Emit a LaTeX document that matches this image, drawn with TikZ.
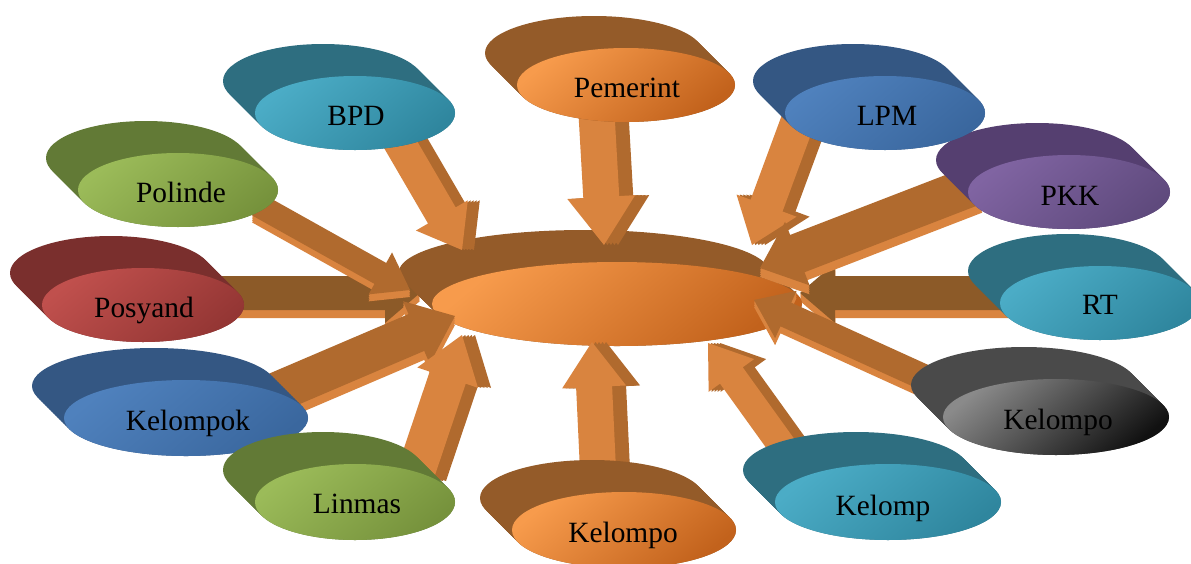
\documentclass[tikz,border=0pt]{standalone}
\usepackage{fontspec}
\setmainfont{Liberation Serif}
\usetikzlibrary{calc}
\definecolor{orL}{HTML}{F79B4C}\definecolor{orD}{HTML}{C2621C}\definecolor{orB}{HTML}{945B29}
\definecolor{teL}{HTML}{4BACC6}\definecolor{teD}{HTML}{2F869E}\definecolor{teB}{HTML}{2E6E80}
\definecolor{blL}{HTML}{4F81BD}\definecolor{blD}{HTML}{3A679E}\definecolor{blB}{HTML}{345783}
\definecolor{grL}{HTML}{9BBB59}\definecolor{grD}{HTML}{76923C}\definecolor{grB}{HTML}{627A36}
\definecolor{puL}{HTML}{8064A2}\definecolor{puD}{HTML}{5F4A7D}\definecolor{puB}{HTML}{553F70}
\definecolor{reL}{HTML}{C0504D}\definecolor{reD}{HTML}{943634}\definecolor{reB}{HTML}{7A2F2D}
\definecolor{gyL}{HTML}{8A8A8A}\definecolor{gyD}{HTML}{111111}\definecolor{gyB}{HTML}{4A4A4A}
\definecolor{arL}{HTML}{D9843F}\definecolor{arD}{HTML}{B06A2E}\definecolor{arH}{HTML}{8C5A28}
\tikzset{
  lab/.style={font=\fontsize{29.4}{34}\selectfont, text=black, inner sep=0pt, anchor=base},
  arlight/.style={fill=arL},
  ardark/.style={fill=arD},
  arbrown/.style={fill=arH}
}
% satellite: #1 name, #2 cx, #3 cy, #4 rx, #5 ry, #6 colour prefix, #7 text x, #8 baseline y, #9 text
\newcommand{\sat}[9]{%
  \foreach \t in {0,0.0625,...,1.01}{%
    \fill[#6B] ({#2-32*(1-\t)},{#3-32*(1-\t)}) ellipse [x radius=#4pt, y radius=#5pt];}
  \shade[top color=#6L, bottom color=#6D, shading angle=40] (#2,#3) ellipse [x radius=#4pt, y radius=#5pt];
  \node[lab] (#1) at (#7,#8) {#9};
}
% block arrow: #1 start, #2 end, #3 half shaft, #4 half head, #5 head length, #6 style, #7 dx, #8 dy
\newcommand{\barrow}[8]{%
  \coordinate (S) at ($(#1)+(#7,#8)$);
  \coordinate (E) at ($(#2)+(#7,#8)$);
  \coordinate (H) at ($(E)!#5!(S)$);
  \fill[#6] ($(S)!#3!90:(E)$) -- ($(H)!#3!90:(E)$) -- ($(H)!#4!90:(E)$) -- (E)
     -- ($(H)!#4!-90:(E)$) -- ($(H)!#3!-90:(E)$) -- ($(S)!#3!-90:(E)$) -- cycle;
}
% vertical-ish arrow with darker side to the right
\newcommand{\varrow}[6]{%
  \foreach \k in {0.25,0.5,0.75,1}{\barrow{#1}{#2}{#3}{#4}{#5}{ardark}{#6*\k}{0}}
  \barrow{#1}{#2}{#3}{#4}{#5}{arlight}{0}{0}
}
% horizontal-ish arrow with lighter strip below
\newcommand{\harrow}[7]{%
  \foreach \k in {0.25,0.5,0.75,1}{\barrow{#1}{#2}{#3}{#4}{#5}{arlight}{0}{#6*\k}}
  \barrow{#1}{#2}{#3}{#4}{#5}{#7}{0}{0}
}
\begin{document}
\begin{tikzpicture}[x=1pt,y=-1pt]
\useasboundingbox (0,0) rectangle (1191,563);
\fill[white] (0,0) rectangle (1191,563);
% arrow end points
\coordinate (a1s) at (596,105); \coordinate (a1e) at (604,245);
\coordinate (a2s) at (395,135); \coordinate (a2e) at (462,250);
\coordinate (a3s) at (800,115); \coordinate (a3e) at (752,245);
\coordinate (a4s) at (258,205); \coordinate (a4e) at (410,290);
\coordinate (a5s) at (975,185); \coordinate (a5e) at (760,268);
\coordinate (a6s) at (210,293); \coordinate (a6e) at (420,293);
\coordinate (a7s) at (1015,293); \coordinate (a7e) at (800,293);
\coordinate (a8s) at (270,395); \coordinate (a8e) at (455,316);
\coordinate (a9s) at (930,380); \coordinate (a9e) at (754,300);
\coordinate (a10s) at (415,475); \coordinate (a10e) at (462,335);
\coordinate (a11s) at (598,470); \coordinate (a11e) at (592,342);
\coordinate (a12s) at (785,450); \coordinate (a12e) at (708,343);
% horizontal arrows behind the centre
\harrow{a6s}{a6e}{17pt}{30pt}{35pt}{8}{arbrown}
\harrow{a7s}{a7e}{17pt}{30pt}{35pt}{8}{arbrown}
% centre disc
\foreach \t in {0,0.05,...,1.01}{%
  \fill[orB] ({617-33*(1-\t)},{304-32*(1-\t)}) ellipse [x radius=185pt, y radius=42pt];}
\shade[top color=orL, bottom color=orD, shading angle=40] (617,304) ellipse [x radius=185pt, y radius=42pt];
\node[inner sep=0pt, minimum width=370pt, minimum height=84pt] (c) at (617,304) {};
% arrows
\varrow{a1s}{a1e}{18pt}{34pt}{48pt}{14}
\varrow{a2s}{a2e}{16pt}{30pt}{40pt}{12}
\varrow{a3s}{a3e}{17pt}{32pt}{42pt}{13}
\harrow{a4s}{a4e}{12pt}{24pt}{34pt}{7}{ardark}
\harrow{a5s}{a5e}{20pt}{34pt}{40pt}{9}{ardark}
\harrow{a8s}{a8e}{20pt}{34pt}{42pt}{9}{ardark}
\harrow{a9s}{a9e}{13pt}{26pt}{35pt}{7}{ardark}
\varrow{a10s}{a10e}{19pt}{32pt}{45pt}{13}
\varrow{a11s}{a11e}{18pt}{32pt}{45pt}{14}
\varrow{a12s}{a12e}{14pt}{28pt}{40pt}{12}
% satellites
\sat{pem}{626}{85}{109}{37}{or}{627}{97}{Pemerint}
\sat{bpd}{355}{113}{100}{37}{te}{356}{125}{BPD}
\sat{pkk}{1069}{192}{101}{37}{pu}{1070}{205}{PKK}
\sat{lpm}{885}{113}{100}{37}{bl}{887}{125}{LPM}
\sat{pol}{178}{190}{100}{37}{gr}{181}{202}{Polinde}
\sat{pos}{143}{305}{101}{37}{re}{144}{317}{Posyand}
\sat{rt}{1100}{303}{100}{37}{te}{1100}{314}{RT}
\sat{kgy}{1056}{417}{113}{38}{gy}{1058}{429}{Kelompo}
\sat{kpk}{186}{418}{122}{38}{bl}{188}{430}{Kelompok}
\sat{lin}{355}{502}{100}{38}{gr}{357}{513}{Linmas}
\sat{kmp}{888}{502}{113}{38}{te}{883}{515}{Kelomp}
\sat{kbt}{624}{530}{112}{38}{or}{623}{542}{Kelompo}
\end{tikzpicture}
\end{document}
